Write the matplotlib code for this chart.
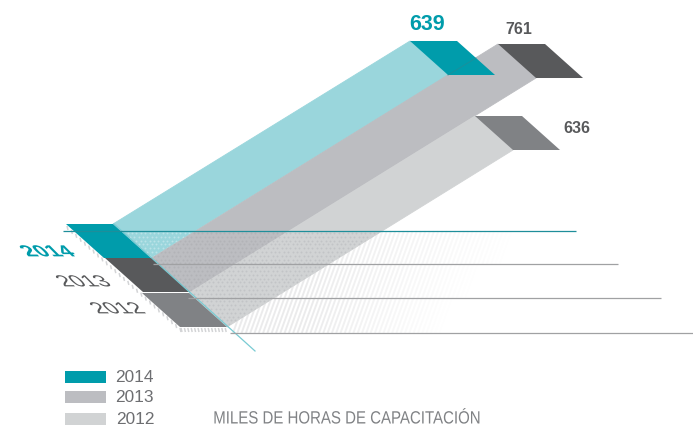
import numpy as np
import matplotlib
matplotlib.use("Agg")
import matplotlib.pyplot as plt
from matplotlib.patches import Polygon, Rectangle
from matplotlib.collections import LineCollection
from matplotlib.patheffects import AbstractPathEffect
from matplotlib.transforms import Affine2D

years = ["2014", "2013", "2012"]
values = [639, 761, 636]
value_labels = ["639", "761", "636"]
legend_labels = ["2014", "2013", "2012"]
unit_label = "MILES DE HORAS DE CAPACITACIÓN"

front_colors = ["#009CAB", "#58595B", "#808285"]
band_colors = ["#9AD6DC", "#BCBDC1", "#D1D3D4"]
legend_colors = ["#009CAB", "#BCBDC1", "#D1D3D4"]

# oblique projection used by the drawing (pixels per thousand hours, per series)
run_per_unit = [0.4648, 0.4547, 0.4497]
rise_per_unit = [0.2864, 0.2812, 0.2783]
front_left = [66, 105, 142]
front_top = [224, 258, 293]
band_width = 47
shear_dx = 38
depth = 34


class Oblique(AbstractPathEffect):
    """Flatten, condense and shear a text's glyphs, as in the artwork."""
    def __init__(self, shear=0.0, xscale=1.0, yscale=1.0, anchor="center"):
        super().__init__()
        self.shear, self.xscale, self.yscale, self.anchor = shear, xscale, yscale, anchor

    def draw_path(self, renderer, gc, tpath, affine, rgbFace=None):
        bb = tpath.transformed(affine).get_extents()
        cx = bb.x0 if self.anchor == "left" else (bb.x0 + bb.x1) / 2
        cy = (bb.y0 + bb.y1) / 2
        extra = (Affine2D().translate(-cx, -cy).scale(self.xscale, self.yscale)
                 + Affine2D(np.array([[1, self.shear, 0], [0, 1, 0], [0, 0, 1]], float))
                 + Affine2D().translate(cx, cy))
        renderer.draw_path(gc, tpath, affine + extra, rgbFace)


plt.rcParams["font.family"] = ["Liberation Sans", "DejaVu Sans"]
fig = plt.figure(figsize=(6.93, 4.28), dpi=100)
ax = fig.add_axes([0, 0, 1, 1])
ax.set_xlim(0, 693)
ax.set_ylim(428, 0)
ax.axis("off")

# striped fading shadow under the bands
rows = [(231, 264, 505), (264, 298, 468), (298, 333, 442)]
for y0, y1, x_end in rows:
    segs, cols = [], []
    for x in np.arange(233, x_end, 4.3):
        a = 0.17 * min(1, (x_end - x) / (x_end - 300))
        segs.append([(x, y1), (x + 0.36 * (y1 - y0), y0)])
        cols.append((0.55, 0.55, 0.57, a))
    ax.add_collection(LineCollection(segs, colors=cols, linewidths=1.4, zorder=1))

# bands
for i in range(3):
    run, rise = values[i] * run_per_unit[i], values[i] * rise_per_unit[i]
    x0, y0 = front_left[i], front_top[i]
    a = (x0 + band_width, y0)
    b = (x0 + band_width + shear_dx, y0 + depth)
    poly = Polygon([a, (a[0] + run, a[1] - rise), (b[0] + run, b[1] - rise), b],
                   closed=True, fc=band_colors[i], ec=band_colors[i], lw=0.6,
                   zorder=2 + i * 0.1)
    ax.add_patch(poly)
    # dotted texture over the part of the band below the first rule
    gx, gy = np.meshgrid(np.arange(110, 440, 4.4), np.arange(233, 332, 3.8))
    gx = gx + (np.arange(gy.shape[0]) % 2)[:, None] * 2.2
    dot_col = "white" if i == 0 else "#8A8B8F"
    dot_alpha = 0.33 if i == 0 else 0.2
    dots = ax.scatter(gx.ravel(), gy.ravel(), s=2.0, c=dot_col, alpha=dot_alpha,
                      linewidths=0, zorder=2.5)
    dots.set_clip_path(poly)

# front faces and end faces
for i in range(3):
    run, rise = values[i] * run_per_unit[i], values[i] * rise_per_unit[i]
    x0, y0 = front_left[i], front_top[i]
    front = [(x0, y0), (x0 + band_width, y0), (x0 + band_width + shear_dx, y0 + depth), (x0 + shear_dx, y0 + depth)]
    ax.add_patch(Polygon(front, closed=True, fc=front_colors[i], ec="none", zorder=3))
    end = [(px + band_width + run, py - rise) for px, py in front]
    ax.add_patch(Polygon(end, closed=True, fc=front_colors[i], ec="none", zorder=3))

# faint edge across the teal end face
ax.plot([448, 476], [75, 58], color="#1E8E9A", lw=0.6, zorder=3.2)

# hatch ticks along the left and bottom edges of the front faces
t = np.linspace(0, 1, 27)
left_x, left_y = 67 + t * 113, 225 + t * 102
segs = [[(x, y + 1), (x + 1, y + 5)] for x, y in zip(left_x, left_y)]
bx = np.arange(181, 228, 3.4)
segs += [[(x, 328), (x + 1, 332)] for x in bx]
ax.add_collection(LineCollection(segs, colors="#D3D4D6", linewidths=1.1, zorder=1.5))

# rules
rule_y = [231, 264, 298, 333]
rule_x0 = [63, 153, 188, 230]
rule_x1 = [576, 618, 661, 693]
rule_c = ["#1E8E9A", "#A0A1A3", "#A0A1A3", "#A0A1A3"]
for y, a, b, c in zip(rule_y, rule_x0, rule_x1, rule_c):
    ax.plot([a, b], [y, y], color=c, lw=0.9, zorder=3.5, solid_capstyle="butt")

# teal diagonal
ax.plot([114, 255], [224, 351], color="#79CBD3", lw=0.9, zorder=3.4)

# value labels
ax.text(427, 24, value_labels[0], color="#009CAB", fontsize=15.5, fontweight="bold", ha="center", va="center", zorder=5)
ax.text(519, 29, value_labels[1], color="#58595B", fontsize=11.5, fontweight="bold", ha="center", va="center", zorder=5)
ax.text(577, 128, value_labels[2], color="#58595B", fontsize=11.5, fontweight="bold", ha="center", va="center", zorder=5)

# sheared year labels
year_pos = [(47, 253), (83, 283), (117, 310)]
year_weight = ["bold", "normal", "normal"]
year_col = ["#009CAB", "#58595B", "#58595B"]
for s, (x, y), w, c in zip(years, year_pos, year_weight, year_col):
    ax.text(x, y, s, color=c, fontsize=16, fontweight=w, ha="center", va="center", zorder=5,
            path_effects=[Oblique(shear=-1.0, yscale=0.72)])

# legend
leg_y = [371, 391, 413]
leg_x = [115, 115, 116]
for lab, y, c, lx in zip(legend_labels, leg_y, legend_colors, leg_x):
    ax.add_patch(Rectangle((65, y), 41, 12, fc=c, ec="none", zorder=4))
    ax.text(lx, y + 6, lab, color="#6D6E71", fontsize=12.4, ha="left", va="center", zorder=5)
ax.text(213, 419, unit_label, color="#808285", fontsize=12.8, ha="left", va="center", zorder=5,
        path_effects=[Oblique(xscale=0.845, anchor="left")])

fig.savefig("out.png", dpi=100)
